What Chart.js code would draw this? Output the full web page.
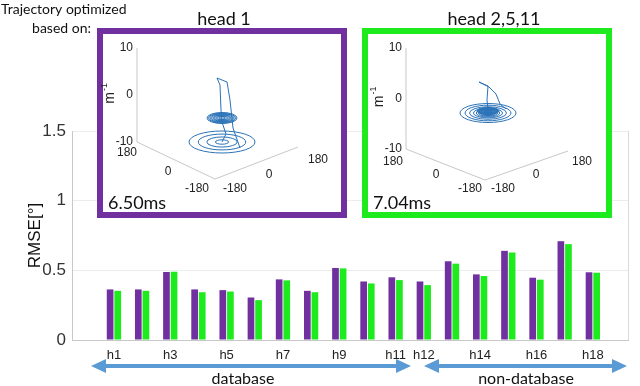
<!DOCTYPE html>
<html>
<head>
<meta charset="utf-8">
<script src="https://cdn.jsdelivr.net/npm/chart.js@4.4.1/dist/chart.umd.min.js"></script>
<style>
  html, body { margin: 0; padding: 0; background: #fff; }
  #wrap { width: 640px; height: 386px; position: relative; }
</style>
</head>
<body>
<div id="wrap"><canvas id="rmseChart" width="640" height="386"></canvas></div>
<script>
// RMSE per head, two optimised trajectories
const categories = ["h1", "h2", "h3", "h4", "h5", "h6", "h7", "h8", "h9", "h10",
  "h11", "h12", "h13", "h14", "h15", "h16", "h17", "h18"];
const shownLabels = ["h1", "h3", "h5", "h7", "h9", "h11", "h12", "h14", "h16", "h18"];
const head1 = [0.363, 0.363, 0.488, 0.363, 0.358, 0.305, 0.435, 0.353, 0.517, 0.420,
  0.450, 0.420, 0.565, 0.471, 0.640, 0.447, 0.709, 0.486];
const head2511 = [0.353, 0.353, 0.490, 0.343, 0.348, 0.286, 0.428, 0.343, 0.514, 0.406,
  0.430, 0.394, 0.548, 0.459, 0.628, 0.433, 0.688, 0.483];
const yTicks = [0, 0.5, 1, 1.5];

const PURPLE = "#7030A0";
const GREEN = "#1EEB1E";
const TRAJ = "#2B73B8";
const ARROW = "#5B9BD5";

// ring radii (fraction of outer ellipse) for the inset sketches
const ringsHead1Low = [1, 0.72, 0.46, 0.2];
const ringsHead2Low = [1, 0.82, 0.66, 0.52, 0.42, 0.34, 0.27, 0.2];

function drawInset(ctx, o) {
  ctx.save();
  ctx.fillStyle = "#fff";
  ctx.fillRect(o.x, o.y, o.w, o.h);
  ctx.strokeStyle = o.color;
  ctx.lineWidth = 6;
  ctx.strokeRect(o.x, o.y, o.w, o.h);

  // 3d axes
  ctx.strokeStyle = "#c8c8c8";
  ctx.lineWidth = 1;
  ctx.beginPath();
  ctx.moveTo(o.ax, o.top);
  ctx.lineTo(o.ax, o.bot);
  ctx.lineTo(o.cx, o.cy);
  ctx.lineTo(o.rx, o.ry);
  ctx.stroke();

  ctx.fillStyle = "#222";
  ctx.font = "12px 'Liberation Sans', Arial";
  ctx.textAlign = "right";
  ctx.textBaseline = "middle";
  ctx.fillText("10", o.ax - 4, o.top);
  ctx.fillText("0", o.ax - 4, (o.top + o.bot) / 2);
  ctx.fillText("-10", o.ax - 4, o.bot);
  ctx.textAlign = "center";
  o.ticks.forEach(t => ctx.fillText(t[0], t[1], t[2]));

  ctx.save();
  ctx.translate(o.ax - 27, (o.top + o.bot) / 2);
  ctx.rotate(-Math.PI / 2);
  ctx.font = "14px 'Liberation Sans', Arial";
  ctx.fillText("m", -3, 0);
  ctx.font = "9px 'Liberation Sans', Arial";
  ctx.fillText("-1", 8, -5);
  ctx.restore();

  // trajectory sketch
  ctx.strokeStyle = TRAJ;
  ctx.lineWidth = 1;
  o.rings.forEach(r => {
    ctx.beginPath();
    ctx.ellipse(o.sx, o.sy, o.srx * r, o.sry * r, 0, 0, Math.PI * 2);
    ctx.stroke();
  });
  if (o.dense) {
    for (let k = 0; k < 9; k++) {
      const f = 1 - k * 0.1;
      ctx.beginPath();
      ctx.ellipse(o.dense[0], o.dense[1], o.dense[2] * f, o.dense[3] * f, 0, 0, Math.PI * 2);
      ctx.stroke();
    }
  }
  o.paths.forEach(p => {
    ctx.beginPath();
    ctx.moveTo(p[0][0], p[0][1]);
    for (let i = 1; i < p.length; i++) ctx.lineTo(p[i][0], p[i][1]);
    ctx.stroke();
  });

  ctx.fillStyle = "#111";
  ctx.textAlign = "left";
  ctx.textBaseline = "alphabetic";
  ctx.font = "18px Lato, 'Open Sans', sans-serif";
  ctx.fillText(o.time, o.x + 8, o.y + o.h - 6);
  ctx.restore();
}

function drawArrow(ctx, x1, x2, y) {
  const head = 15, half = 7;
  ctx.save();
  ctx.fillStyle = ARROW;
  ctx.fillRect(x1 + head - 1, y - 2, x2 - x1 - 2 * head + 2, 4);
  ctx.beginPath();
  ctx.moveTo(x1, y);
  ctx.lineTo(x1 + head, y - half);
  ctx.lineTo(x1 + head, y + half);
  ctx.closePath();
  ctx.moveTo(x2, y);
  ctx.lineTo(x2 - head, y - half);
  ctx.lineTo(x2 - head, y + half);
  ctx.closePath();
  ctx.fill();
  ctx.restore();
}

const figureDecor = {
  id: "figureDecor",
  afterDraw(chart) {
    const ctx = chart.ctx;
    const a = chart.chartArea;
    // right border of the axes box
    ctx.save();
    ctx.strokeStyle = "#d9d9d9";
    ctx.lineWidth = 1;
    ctx.beginPath();
    ctx.moveTo(a.right + 0.5, a.top);
    ctx.lineTo(a.right + 0.5, a.bottom);
    ctx.stroke();
    ctx.restore();

    drawInset(ctx, {
      x: 100, y: 31, w: 244, h: 184, color: PURPLE, time: "6.50ms",
      ax: 137, top: 48, bot: 142, cx: 215, cy: 179, rx: 298, ry: 147,
      ticks: [["180", 127, 153], ["0", 168, 172], ["-180", 197, 189],
              ["-180", 235, 189], ["0", 269, 175], ["180", 318, 160]],
      sx: 222, sy: 142, srx: 33, sry: 11, rings: ringsHead1Low,
      dense: [222, 118, 15, 5.5],
      paths: [[[217, 78], [227, 82], [230, 100], [233, 128], [240, 148]],
              [[217, 78], [220, 85], [221, 110], [222, 122], [226, 134], [222, 142]]]
    });
    drawInset(ctx, {
      x: 365, y: 31, w: 244, h: 184, color: GREEN, time: "7.04ms",
      ax: 406, top: 48, bot: 149, cx: 485, cy: 180, rx: 568, ry: 151,
      ticks: [["180", 393, 162], ["0", 436, 175], ["-180", 470, 189],
              ["-180", 503, 189], ["0", 536, 175], ["180", 582, 162]],
      sx: 488, sy: 113, srx: 28, sry: 9.5, rings: ringsHead2Low,
      dense: [488, 111, 11, 3.5],
      paths: [[[479, 82], [488, 86], [487, 100], [488, 109]],
              [[479, 82], [489, 87], [496, 94], [500, 104], [506, 109]]]
    });

    ctx.save();
    ctx.fillStyle = "#111";
    ctx.textBaseline = "middle";
    ctx.font = "14px Lato, 'Open Sans', sans-serif";
    ctx.textAlign = "left";
    ctx.fillText("Trajectory optimized", 1, 9);
    ctx.textAlign = "right";
    ctx.fillText("based on:", 91, 28);
    ctx.textAlign = "center";
    ctx.font = "18px Lato, 'Open Sans', sans-serif";
    ctx.fillText("head 1", 224, 19);
    ctx.fillText("head 2,5,11", 494, 19);

    drawArrow(ctx, 91, 411, 366);
    drawArrow(ctx, 424, 627, 366);
    ctx.font = "16px Lato, 'Open Sans', sans-serif";
    ctx.fillText("database", 243, 379);
    ctx.fillText("non-database", 526, 379);
    ctx.restore();
  }
};

const ctx = document.getElementById("rmseChart").getContext("2d");
new Chart(ctx, {
  type: "bar",
  data: {
    datasets: [
      {
        label: "head 1",
        data: head1.map((v, i) => ({ x: i + 1, y: v })),
        backgroundColor: PURPLE,
        categoryPercentage: 0.54,
        barPercentage: 0.88,
      },
      {
        label: "head 2,5,11",
        data: head2511.map((v, i) => ({ x: i + 1, y: v })),
        backgroundColor: GREEN,
        categoryPercentage: 0.54,
        barPercentage: 0.88,
      },
    ],
  },
  options: {
    responsive: false,
    animation: false,
    layout: { padding: { left: 0, right: 12, top: 131, bottom: 0 } },
    plugins: {
      legend: { display: false },
      tooltip: { enabled: false },
    },
    scales: {
      x: {
        type: "linear",
        min: 0.06,
        max: 18.7,
        afterBuildTicks: (scale) => {
          scale.ticks = categories.map((c, i) => ({ value: i + 1 }));
        },
        afterFit: (scale) => { scale.height = 46; },
        ticks: {
          autoSkip: false,
          maxRotation: 0,
          padding: 0,
          color: "#222",
          font: { family: "'Liberation Sans', Arial", size: 13 },
          callback: (v) => {
            const c = categories[Math.round(v) - 1];
            return shownLabels.includes(c) ? c : "";
          },
        },
        grid: { display: false },
        border: { color: "#c8c8c8" },
      },
      y: {
        min: 0,
        max: 1.5,
        afterBuildTicks: (scale) => {
          scale.ticks = yTicks.map((v) => ({ value: v }));
        },
        afterFit: (scale) => { scale.width = 72; },
        ticks: {
          padding: 6,
          color: "#333",
          font: { family: "'Liberation Sans', Arial", size: 17 },
          callback: (v) => String(v),
        },
        title: {
          display: true,
          text: "RMSE[°]",
          color: "#111",
          padding: { top: 25, bottom: 2 },
          font: { family: "'Liberation Sans', Arial", size: 17 },
        },
        grid: { color: "#ececec", drawTicks: false },
        border: { color: "#c8c8c8" },
      },
    },
  },
  plugins: [figureDecor],
});
</script>
</body>
</html>
